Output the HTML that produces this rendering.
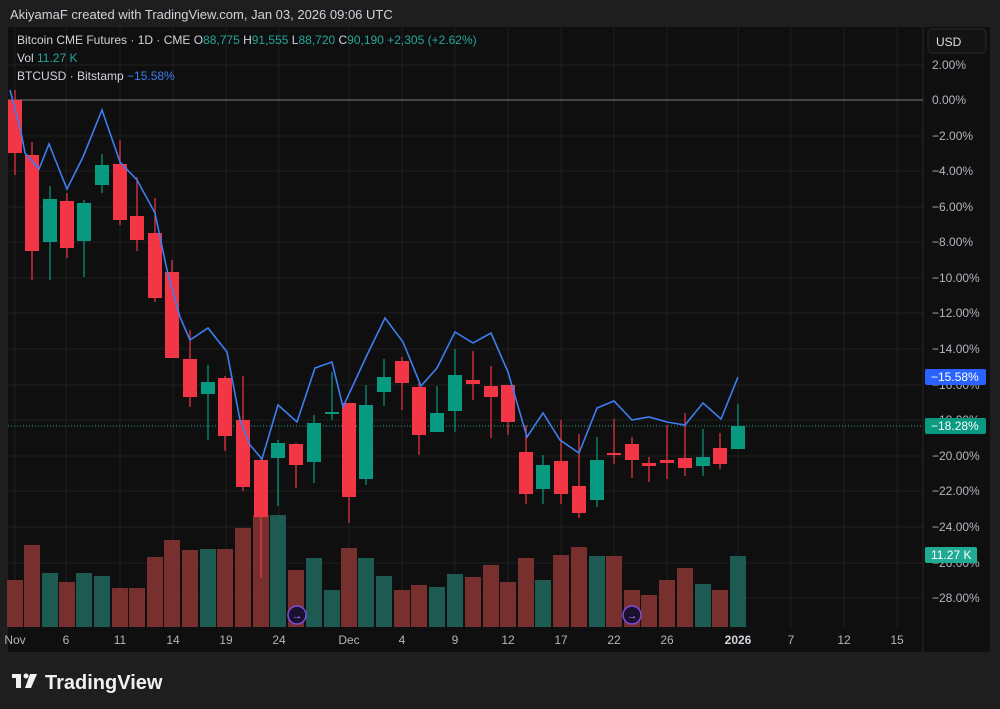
<!DOCTYPE html>
<html><head><meta charset="utf-8"><style>
html,body{margin:0;padding:0;background:#1e1e1e;width:1000px;height:709px;overflow:hidden;font-family:"Liberation Sans",sans-serif}
svg{position:absolute;left:0;top:0}
</style></head><body>
<svg id="s" width="1000" height="709" xmlns="http://www.w3.org/2000/svg" font-family="Liberation Sans, sans-serif">
<rect x="0" y="0" width="1000" height="709" fill="#1e1e1e"/>
<text x="10" y="19" fill="#d1d4dc" font-size="13">AkiyamaF created with TradingView.com, Jan 03, 2026 09:06 UTC</text>
<rect x="8" y="27" width="982" height="625" fill="#0f0f0f"/>
<g id="grid" stroke="#1f1f1f" stroke-width="1"></g>
<line x1="8" y1="100" x2="923" y2="100" stroke="#787b86" stroke-width="1"/>
<line x1="8" y1="426" x2="923" y2="426" stroke="#26a69a" stroke-width="1" stroke-dasharray="1,2"/>
<g id="vol"></g>
<g id="candles"></g>
<polyline fill="none" stroke="#3d7ef0" stroke-width="1.6" points="10,90 21,132 25,153 39,169 49,144 67,189 83,157 102,110 120,162 137,180 155,213 167,270 180,317 190,340 208,328 227,352 240,420 250,445 262,459 278,405 297,422 315,368 332,362 343,407 367,355 385,318 403,342 421,386 437,368 455,332 473,343 491,333 508,372 527,437 543,413 560,440 579,453 597,408 614,401 632,420 649,417 667,422 685,425 703,403 721,419 738,377"/>
<circle cx="297" cy="615" r="9" fill="#1a1030" stroke="#7b4fe0" stroke-width="1.5"/>
<text x="297" y="619" fill="#a98bff" font-size="11" text-anchor="middle">→</text>
<circle cx="632" cy="615" r="9" fill="#1a1030" stroke="#7b4fe0" stroke-width="1.5"/>
<text x="632" y="619" fill="#a98bff" font-size="11" text-anchor="middle">→</text>
<g font-size="12" fill="#d1d4dc">
<text x="17" y="44">Bitcoin CME Futures · 1D · CME  <tspan>O</tspan><tspan fill="#26a69a">88,775</tspan>  H<tspan fill="#26a69a">91,555</tspan>  L<tspan fill="#26a69a">88,720</tspan>  C<tspan fill="#26a69a">90,190</tspan>  <tspan fill="#26a69a">+2,305 (+2.62%)</tspan></text>
<text x="17" y="62">Vol  <tspan fill="#26a69a">11.27 K</tspan></text>
<text x="17" y="80">BTCUSD · Bitstamp  <tspan fill="#3d7ef0">−15.58%</tspan></text>
</g>
<rect x="928" y="29" width="58" height="24" rx="4" fill="#141414" stroke="#2a2a2a"/>
<text x="936" y="46" fill="#e0e0e0" font-size="12">USD</text>
<g font-size="12" fill="#b2b5be">
<text x="932" y="69">2.00%</text><text x="932" y="104">0.00%</text>
<text x="932" y="140">−2.00%</text><text x="932" y="175">−4.00%</text>
<text x="932" y="211">−6.00%</text><text x="932" y="246">−8.00%</text>
<text x="932" y="282">−10.00%</text><text x="932" y="317">−12.00%</text>
<text x="932" y="353">−14.00%</text><text x="932" y="389">−16.00%</text>
<text x="932" y="424">−18.00%</text><text x="932" y="460">−20.00%</text>
<text x="932" y="495">−22.00%</text><text x="932" y="531">−24.00%</text>
<text x="932" y="567">−26.00%</text><text x="932" y="602">−28.00%</text>
</g>
<rect x="925" y="369" width="61" height="16" rx="2" fill="#2962ff"/>
<text x="931" y="381" fill="#fff" font-size="12">−15.58%</text>
<rect x="925" y="418" width="61" height="16" rx="2" fill="#089981"/>
<text x="931" y="430" fill="#fff" font-size="12">−18.28%</text>
<rect x="925" y="547" width="52" height="16" rx="2" fill="#22ab94"/>
<text x="931" y="559" fill="#fff" font-size="12">11.27 K</text>
<g font-size="12" fill="#b2b5be" text-anchor="middle">
<text x="15" y="644">Nov</text><text x="66" y="644">6</text><text x="120" y="644">11</text>
<text x="173" y="644">14</text><text x="226" y="644">19</text><text x="279" y="644">24</text>
<text x="349" y="644">Dec</text><text x="402" y="644">4</text><text x="455" y="644">9</text>
<text x="508" y="644">12</text><text x="561" y="644">17</text><text x="614" y="644">22</text>
<text x="667" y="644">26</text><text x="738" y="644" font-weight="bold" fill="#d1d4dc">2026</text>
<text x="791" y="644">7</text><text x="844" y="644">12</text><text x="897" y="644">15</text>
</g>
<rect x="8" y="652" width="982" height="57" fill="#1e1e1e"/>
<g fill="#f0f0f0">
<rect x="12" y="674" width="9" height="4"/><rect x="16" y="674" width="5" height="14"/>
<circle cx="26" cy="676" r="2.5"/><polygon points="30,674 37,674 31,688 25,688"/>
</g>
<text x="45" y="689" fill="#f0f0f0" font-size="20" font-weight="bold">TradingView</text>
</svg>
<script>
var NS="http://www.w3.org/2000/svg",g=document.getElementById('grid'),c=document.getElementById('candles'),v=document.getElementById('vol');
function el(p,t,a){var e=document.createElementNS(NS,t);for(var k in a)e.setAttribute(k,a[k]);p.appendChild(e);}
[65,100,136,171,207,242,278,313,349,385,420,456,491,527,563,598].forEach(function(y){el(g,'line',{x1:8,x2:923,y1:y,y2:y});});
[15,66,120,173,226,279,349,402,455,508,561,614,667,738,791,844,897].forEach(function(x){el(g,'line',{x1:x,x2:x,y1:27,y2:627});});
el(g,'line',{x1:923,x2:923,y1:27,y2:652,stroke:'#2a2a2a'});
var C=[[15,100,153,90,175,0],[32,155,251,142,280,0],[50,199,242,186,280,1],[67,201,248,193,258,0],[84,203,241,200,277,1],[102,165,185,154,193,1],[120,164,220,140,225,0],[137,216,240,177,251,0],[155,233,298,198,302,0],[172,272,358,260,358,0],[190,359,397,330,407,0],[208,382,394,365,440,1],[225,378,436,376,451,0],[243,420,487,376,491,0],[261,460,517,459,578,0],[278,443,458,440,506,1],[296,444,465,443,488,0],[314,423,462,415,483,1],[332,412,413,372,420,1],[349,403,497,403,523,0],[366,405,479,385,485,1],[384,377,392,359,406,1],[402,361,383,357,410,0],[419,387,435,383,455,0],[437,413,432,386,432,1],[455,375,411,349,432,1],[473,380,384,351,400,0],[491,386,397,366,438,0],[508,385,422,385,435,0],[526,452,494,425,504,0],[543,465,489,455,504,1],[561,461,494,420,504,0],[579,486,513,434,518,0],[597,460,500,437,507,1],[614,453,455,419,464,0],[632,444,460,437,478,0],[649,463,466,457,482,0],[667,460,463,425,479,0],[685,458,468,413,476,0],[703,457,466,429,476,1],[720,448,464,433,469,0],[738,426,449,404,449,1]];
var V=[580,545,573,582,573,576,588,588,557,540,550,549,549,528,515,515,570,558,590,548,558,576,590,585,587,574,577,565,582,558,580,555,547,556,556,590,595,580,568,584,590,556];
C.forEach(function(d,i){var col=d[5]?'#089981':'#f23645';
el(v,'rect',{x:d[0]-8,y:V[i],width:16,height:627-V[i],fill:d[5]?'#1d5a52':'#78302f'});
el(c,'line',{x1:d[0],x2:d[0],y1:d[3],y2:d[4],stroke:col,'stroke-width':1.2});
el(c,'rect',{x:d[0]-7,y:d[1],width:14,height:Math.max(2,d[2]-d[1]),fill:col});});
</script>
</body></html>
